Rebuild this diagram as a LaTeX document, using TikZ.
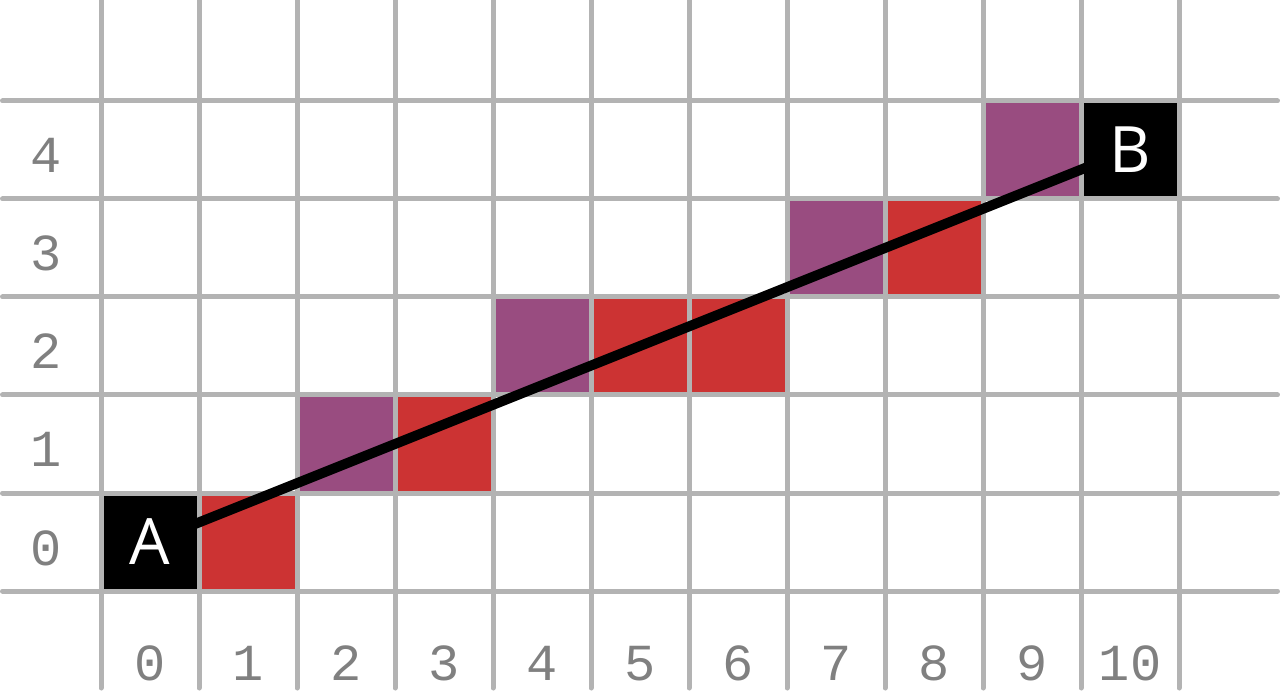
\documentclass[tikz,border=0pt]{standalone}
\usepackage{fontspec}
\setmainfont{Open Sans}
\newfontfamily\monof{Liberation Mono}
\definecolor{gridgray}{HTML}{B3B3B3}
\definecolor{labgray}{HTML}{808080}
\definecolor{cred}{HTML}{CC3333}
\definecolor{cpurple}{HTML}{994C80}
\pgfdeclarelayer{back}
\pgfdeclarelayer{mid}
\pgfsetlayers{back,mid,main}
\begin{document}
\begin{tikzpicture}[x=1pt,y=-1pt,
  cell/.style={minimum size=93pt,inner sep=0pt,outer sep=0pt},
  redcell/.style={cell,fill=cred},
  purplecell/.style={cell,fill=cpurple},
  endcell/.style={cell,fill=black,text=white,font=\fontsize{64}{70}\selectfont},
  gridline/.style={draw=gridgray,line width=5pt,line cap=round},
  lbl/.style={text=labgray,font=\monof\fontsize{52}{60}\selectfont,anchor=base,inner sep=0pt},
  seg/.style={draw=black,line width=10pt}]
\useasboundingbox (0,0) rectangle (1280,692);
\begin{pgfonlayer}{back}
  % coloured cells
  \node[redcell] (r10) at (248,542) {};
  \node[redcell] (r31) at (444,444) {};
  \node[redcell] (r52) at (640,346) {};
  \node[redcell] (r62) at (738,346) {};
  \node[redcell] (r83) at (934,248) {};
  \node[purplecell] (p21) at (346,444) {};
  \node[purplecell] (p42) at (542,346) {};
  \node[purplecell] (p73) at (836,248) {};
  \node[purplecell] (p94) at (1032,150) {};
  % grid
  \foreach \i in {0,...,11} {
    \draw[gridline] (101+98*\i,-10) -- (101+98*\i,688);
  }
  \foreach \j in {0,...,5} {
    \draw[gridline] (2.5,101+98*\j) -- (1277.5,101+98*\j);
  }
\end{pgfonlayer}
% labels
\foreach \i in {0,...,10} {
  \node[lbl] (c\i) at (150+98*\i,680) {\i};
}
\foreach \j in {0,...,4} {
  \node[lbl] (row\j) at (46,565-98*\j) {\j};
}
% endpoints
\node[endcell] (A) at (150,542) {A};
\node[endcell] (B) at (1130,150) {B};
\begin{pgfonlayer}{mid}
  \draw[seg] (A.center) -- (B.center);
\end{pgfonlayer}
\end{tikzpicture}
\end{document}
